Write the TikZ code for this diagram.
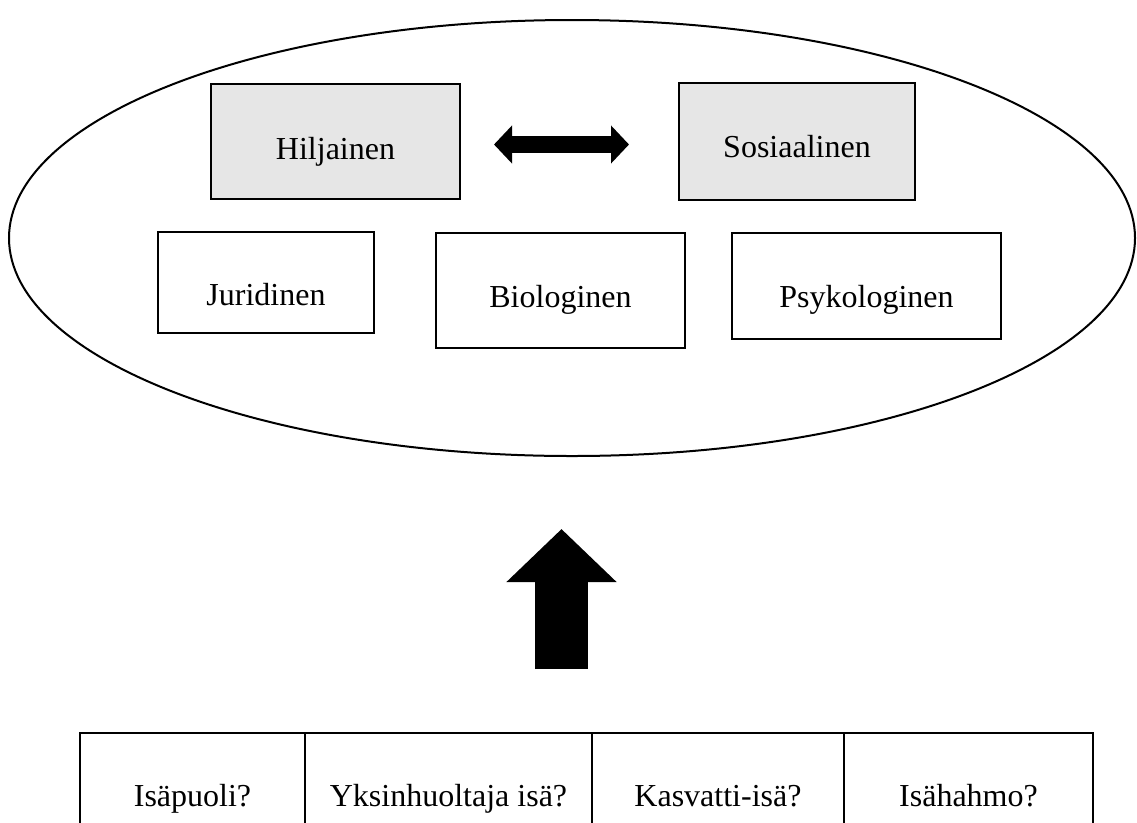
\documentclass[tikz,border=0pt]{standalone}
\usepackage{fontspec}
\setmainfont{Liberation Serif}
\usepackage{tikz}
\usetikzlibrary{positioning,arrows.meta}

\definecolor{boxgray}{RGB}{230,230,230}

\tikzset{
  graybox/.style={draw, line width=1.8pt, fill=boxgray, outer sep=0pt, text height=#1, text depth=0pt},
  whitebox/.style={draw, line width=1.8pt, fill=white, outer sep=0pt, text height=#1, text depth=0pt},
  cell/.style={draw, line width=1.8pt, outer sep=0pt, minimum height=96pt, text height=13.5pt, text depth=0pt},
  fatboth/.style={line width=12.75pt, {Triangle[length=13.5pt,width=27.75pt]}-{Triangle[length=13.5pt,width=27.75pt]}},
  fatup/.style={line width=39.75pt, -{Triangle[length=39.75pt,width=80.25pt]}}
}

\begin{document}
\begin{tikzpicture}[x=0.75pt,y=0.75pt,yscale=-1,xscale=1,font=\fontsize{24}{29}\selectfont]
  \useasboundingbox (0,0) rectangle (1137,822);
  \clip (0,0) rectangle (1137,822);

  %Ellipse
  \draw [line width=1.5pt] (572,238) ellipse [x radius=563, y radius=218];

  % Gray boxes
  \node [graybox=26.25pt, minimum width=186.75pt, minimum height=86.25pt] (hiljainen) at (335.5,141.5) {Hiljainen};
  \node [graybox=23.25pt, minimum width=177pt, minimum height=87.75pt] (sosiaalinen) at (797,141.5) {Sosiaalinen};
  % White boxes
  \node [whitebox=33.75pt, minimum width=162pt, minimum height=75.75pt] (juridinen) at (266,282.5) {Juridinen};
  \node [whitebox=24.75pt, minimum width=186.75pt, minimum height=86.25pt] (biologinen) at (560.5,290.5) {Biologinen};
  \node [whitebox=31.5pt, minimum width=201.75pt, minimum height=79.5pt] (psykologinen) at (866.5,286) {Psykologinen};

  % Double arrow
  \draw [fatboth, shorten <=25.5pt, shorten >=37.5pt] ([yshift=2.25pt]hiljainen.east) -- ([yshift=2.25pt]sosiaalinen.west);

  % Up arrow
  \coordinate (arrowfoot) at (561.5,669);
  \coordinate (arrowtip) at (561.5,529);
  \draw [fatup] (arrowfoot) -- (arrowtip);

  % Table
  \node [cell, minimum width=168.75pt] (isapuoli) at (192.5,797) {Isäpuoli?};
  \node [cell, minimum width=215.25pt, right=0pt of isapuoli] (yksinhuoltaja) {Yksinhuoltaja isä?};
  \node [cell, minimum width=189pt, right=0pt of yksinhuoltaja] (kasvatti) {Kasvatti-isä?};
  \node [cell, minimum width=186.75pt, right=0pt of kasvatti] (isahahmo) {Isähahmo?};
\end{tikzpicture}
\end{document}
